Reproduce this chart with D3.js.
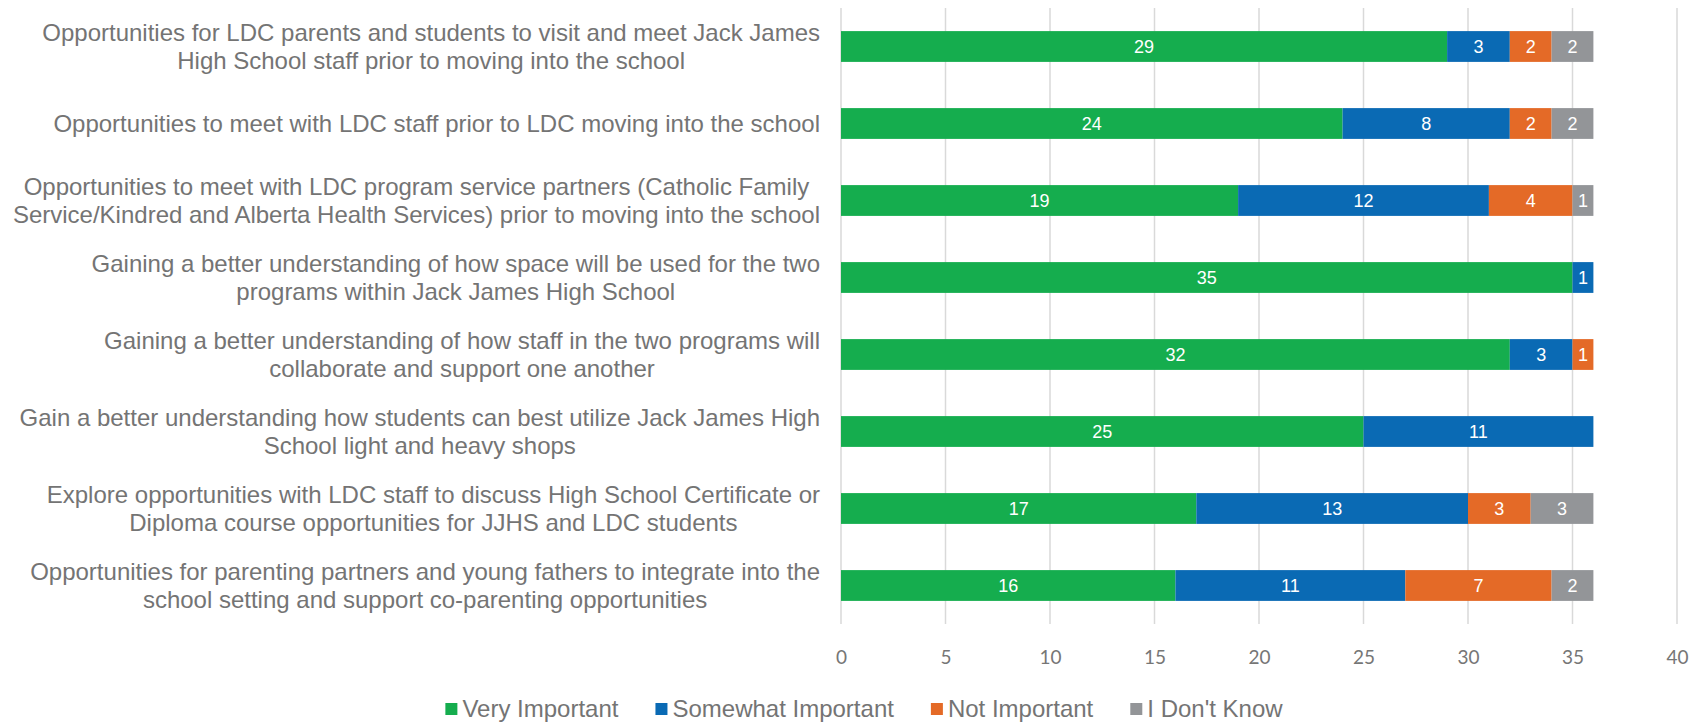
<!DOCTYPE html>
<html>
<head>
<meta charset="utf-8">
<script src="https://cdn.jsdelivr.net/npm/d3@7"></script>
<style>
  html, body { margin: 0; padding: 0; background: #ffffff; }
  svg { display: block; }
</style>
</head>
<body>
<svg id="chart" width="1708" height="722"></svg>
<script>
// Survey items (line breaks mark where each label wraps)
const categories = [
  "Opportunities for LDC parents and students to visit and meet Jack James\nHigh School staff prior to moving into the school",
  "Opportunities to meet with LDC staff prior to LDC moving into the school",
  "Opportunities to meet with LDC program service partners (Catholic Family\nService/Kindred and Alberta Health Services) prior to moving into the school",
  "Gaining a better understanding of how space will be used for the two\nprograms within Jack James High School",
  "Gaining a better understanding of how staff in the two programs will\ncollaborate and support one another",
  "Gain a better understanding how students can best utilize Jack James High\nSchool light and heavy shops",
  "Explore opportunities with LDC staff to discuss High School Certificate or\nDiploma course opportunities for JJHS and LDC students",
  "Opportunities for parenting partners and young fathers to integrate into the\nschool setting and support co-parenting opportunities"
];

const seriesNames = ["Very Important", "Somewhat Important", "Not Important", "I Don't Know"];
const veryImportant     = [29, 24, 19, 35, 32, 25, 17, 16];
const somewhatImportant = [3, 8, 12, 1, 3, 11, 13, 11];
const notImportant      = [2, 2, 4, 0, 1, 0, 3, 7];
const dontKnow          = [2, 2, 1, 0, 0, 0, 3, 2];
const xTicks = [0, 5, 10, 15, 20, 25, 30, 35, 40];

const colors = ["#15ad4e", "#0a6ab4", "#e46a27", "#939598"];

// Build row objects for the stack layout
const rows = categories.map((c, i) => ({
  category: c,
  "Very Important": veryImportant[i],
  "Somewhat Important": somewhatImportant[i],
  "Not Important": notImportant[i],
  "I Don't Know": dontKnow[i]
}));
const stacked = d3.stack().keys(seriesNames)(rows);

const svg = d3.select("#chart");
const margin = { top: 8, right: 31, bottom: 98, left: 841 };
const W = 1708, H = 722;
const plotBottom = H - margin.bottom;

const x = d3.scaleLinear().domain([0, 40]).range([margin.left, W - margin.right]);
const y = d3.scaleBand().domain(categories).range([margin.top, plotBottom]).paddingInner(0.6).paddingOuter(0.3);

// Vertical gridlines
svg.append("g")
  .selectAll("line")
  .data(xTicks)
  .join("line")
  .attr("x1", d => x(d)).attr("x2", d => x(d))
  .attr("y1", margin.top).attr("y2", plotBottom)
  .attr("stroke", "#d9d9d9")
  .attr("stroke-width", 1.5);

// X axis tick labels
const xAxis = d3.axisBottom(x).tickValues(xTicks).tickSize(0).tickPadding(0);
const gx = svg.append("g")
  .attr("transform", `translate(0,${plotBottom + 26})`)
  .call(xAxis);
gx.select(".domain").remove();
gx.selectAll("text")
  .attr("font-family", "Lato, 'Open Sans', sans-serif")
  .attr("font-size", 19)
  .attr("fill", "#767676");

// Stacked bar segments
const layer = svg.append("g")
  .selectAll("g")
  .data(stacked)
  .join("g")
  .attr("fill", (d, i) => colors[i]);

layer.selectAll("rect")
  .data(d => d.filter(s => s[1] - s[0] > 0))
  .join("rect")
  .attr("x", d => x(d[0]))
  .attr("y", d => y(d.data.category))
  .attr("width", d => x(d[1]) - x(d[0]))
  .attr("height", y.bandwidth());

// Value labels inside each segment
layer.selectAll("text")
  .data(d => d.filter(s => s[1] - s[0] > 0))
  .join("text")
  .attr("x", d => (x(d[0]) + x(d[1])) / 2)
  .attr("y", d => y(d.data.category) + y.bandwidth() / 2)
  .attr("dy", "0.35em")
  .attr("text-anchor", "middle")
  .attr("font-family", "'Liberation Sans', Arial, sans-serif")
  .attr("font-size", 18)
  .attr("fill", "#ffffff")
  .text(d => d[1] - d[0]);

// Category labels: each block right-aligned to the plot, lines centred within it
const lineH = 28;
const labelRight = 820;
const labels = svg.append("g")
  .selectAll("text")
  .data(categories)
  .join("text")
  .attr("text-anchor", "middle")
  .attr("font-family", "'Liberation Sans', Arial, sans-serif")
  .attr("font-size", 24)
  .attr("fill", "#747474");

labels.each(function(d) {
  const lines = d.split("\n");
  const cy = y(d) + y.bandwidth() / 2;
  const t = d3.select(this);
  const spans = lines.map((ln, i) => t.append("tspan")
      .attr("y", cy + (i - (lines.length - 1) / 2) * lineH)
      .attr("dy", "0.35em")
      .text(ln));
  const maxW = d3.max(spans, s => s.node().getComputedTextLength());
  spans.forEach(s => s.attr("x", labelRight - maxW / 2));
});

// Legend
const legend = svg.append("g");
const legendItems = legend.selectAll("g")
  .data(seriesNames)
  .join("g");
legendItems.append("rect")
  .attr("width", 12).attr("height", 12)
  .attr("y", -6)
  .attr("fill", (d, i) => colors[i]);
legendItems.append("text")
  .attr("x", 17)
  .attr("dy", "0.35em")
  .attr("font-family", "'Liberation Sans', Arial, sans-serif")
  .attr("font-size", 24)
  .attr("fill", "#747474")
  .text(d => d);

let offset = 0;
const gap = 37;
legendItems.each(function() {
  const g = d3.select(this);
  g.attr("transform", `translate(${offset},0)`);
  offset += 17 + g.select("text").node().getComputedTextLength() + gap;
});
const legendWidth = offset - gap;
legend.attr("transform", `translate(${864 - legendWidth / 2},709)`);
</script>
</body>
</html>
